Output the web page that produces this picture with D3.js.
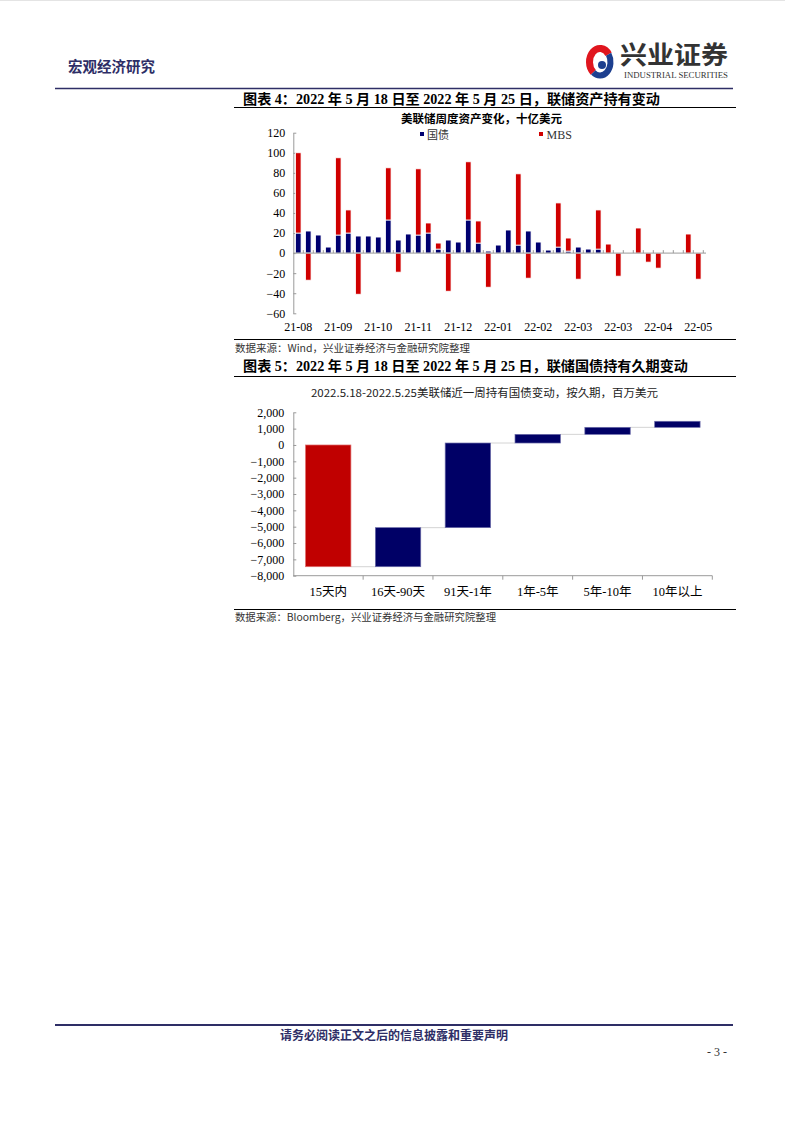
<!DOCTYPE html>
<html><head><meta charset="utf-8">
<script src="https://cdn.jsdelivr.net/npm/d3@7/dist/d3.min.js"></script>
<style>body{margin:0;background:#fff;} svg{display:block}</style>
</head><body>
<svg id="page" width="785" height="1124"></svg>
<script>
// ---------- DATA ----------
// Figure 4: weekly change of Fed assets, bn USD (41 weeks)
const weekIndex = d3.range(41);
const monthLabels = ["21-08","21-09","21-10","21-11","21-12","22-01","22-02","22-03","22-03","22-04","22-05"];
const treasury = [20,22,18,6,18,20,17,17,16,33,13,19,18,20,4,13,11,33,10,2,8,23,8,22,11,3,6,2,6,4,4,0,0,0,0,0,0,0,0,0,0];
const mbs      = [80,-27,0,0,77,23,-41,0,0,52,-19,0,66,10,6,-38,0,58,22,-34,0,0,71,-25,0,0,44,13,-26,0,39,9,-23,0,25,-9,-15,0,0,19,-26];
const yTicks4 = [120,100,80,60,40,20,0,-20,-40,-60];
const legend4 = ["国债","MBS"];

// Figure 5: change in Treasury holdings by maturity, mn USD (waterfall)
const maturities = ["15天内","16天-90天","91天-1年","1年-5年","5年-10年","10年以上"];
const changes = [-7450, 2390, 5180, 530, 430, 370];
const yTicks5 = [2000,1000,0,-1000,-2000,-3000,-4000,-5000,-6000,-7000,-8000];

// ---------- STYLE ----------
const NAVY = "#000070", RED = "#d00000", RED5 = "#c00000", NAVY5 = "#000066";
const HEAD = "#2e2e66";
const SERIF = "'Liberation Serif','Noto Sans CJK SC',serif";
const CJK = "'Noto Sans CJK SC','Liberation Serif',sans-serif";

const svg = d3.select("#page");

// page edges
svg.append("line").attr("x1",0).attr("x2",785).attr("y1",0.5).attr("y2",0.5).attr("stroke","#e4e4e4");

// ---------- HEADER ----------
svg.append("text").attr("x",68).attr("y",72).text("宏观经济研究")
  .attr("font-family",CJK).attr("font-weight","bold").attr("font-size",14.5).attr("fill",HEAD);
svg.append("line").attr("x1",55).attr("x2",733).attr("y1",88.5).attr("y2",88.5)
  .attr("stroke",HEAD).attr("stroke-width",1.5);

// logo
const lg = svg.append("g");
function arcPath(cx,cy,rx,ry,a0,a1,large,sweep){
  const r=Math.PI/180;
  return `M${cx+rx*Math.cos(a0*r)},${cy+ry*Math.sin(a0*r)} A${rx},${ry} 0 ${large} ${sweep} ${cx+rx*Math.cos(a1*r)},${cy+ry*Math.sin(a1*r)}`;
}
lg.append("path").attr("d",arcPath(600,62,10.5,13.5,-35,130,1,0)).attr("fill","none").attr("stroke","#e0161e").attr("stroke-width",7);
lg.append("path").attr("d",arcPath(600,62,10.5,13.5,130,-35,0,0)).attr("fill","none").attr("stroke","#1d3f8f").attr("stroke-width",6);
lg.append("circle").attr("cx",602).attr("cy",65).attr("r",4).attr("fill","#1d3f8f");
svg.append("text").attr("x",620).attr("y",64).text("兴业证券")
  .attr("font-family",CJK).attr("font-weight","bold").attr("font-size",25).attr("fill","#333")
  .attr("textLength",108).attr("lengthAdjust","spacingAndGlyphs");
svg.append("text").attr("x",624).attr("y",77.5).text("INDUSTRIAL SECURITIES")
  .attr("font-family",SERIF).attr("font-size",8).attr("fill","#333")
  .attr("textLength",104).attr("lengthAdjust","spacingAndGlyphs");

// ---------- FIGURE 4 ----------
svg.append("text").attr("x",243).attr("y",104)
  .text("图表 4：2022 年 5 月 18 日至 2022 年 5 月 25 日，联储资产持有变动")
  .attr("font-family",SERIF).attr("font-weight","bold").attr("font-size",14).attr("fill","#000")
  .attr("textLength",417).attr("lengthAdjust","spacingAndGlyphs");
svg.append("line").attr("x1",234).attr("x2",736).attr("y1",107.5).attr("y2",107.5).attr("stroke","#000").attr("stroke-width",1);

svg.append("text").attr("x",481.5).attr("y",123).attr("text-anchor","middle")
  .text("美联储周度资产变化，十亿美元")
  .attr("font-family",CJK).attr("font-weight","bold").attr("font-size",11.5).attr("fill","#000");

const x4 = d3.scaleBand().domain(weekIndex).range([293.3,703.3]).paddingInner(0.45).paddingOuter(0.225);
const y4 = d3.scaleLinear().domain([-60,120]).range([313.3,132.7]);
const g4 = svg.append("g");

// y axis
const ya4 = g4.append("g").attr("transform","translate(293.3,0)")
  .call(d3.axisLeft(y4).tickValues(yTicks4).tickSizeInner(-3).tickSizeOuter(0).tickPadding(8));
ya4.select(".domain").attr("stroke","#9a9a9a");
ya4.selectAll(".tick line").attr("stroke","#9a9a9a");
ya4.selectAll("text").attr("font-family",SERIF).attr("font-size",12).attr("fill","#000");

// bars: treasury
g4.selectAll("rect.t").data(weekIndex.filter(i=>treasury[i]>0)).join("rect").attr("class","t")
  .attr("x",i=>x4(i)).attr("width",x4.bandwidth())
  .attr("y",i=>y4(treasury[i])).attr("height",i=>y4(0)-y4(treasury[i]))
  .attr("fill",NAVY).attr("stroke","#fff").attr("stroke-width",0.8);
// bars: MBS
g4.selectAll("rect.m").data(weekIndex.filter(i=>mbs[i]!==0)).join("rect").attr("class","m")
  .attr("x",i=>x4(i)).attr("width",x4.bandwidth())
  .attr("y",i=> mbs[i]>0 ? y4(treasury[i]+mbs[i]) : y4(0))
  .attr("height",i=> mbs[i]>0 ? y4(treasury[i])-y4(treasury[i]+mbs[i]) : y4(mbs[i])-y4(0))
  .attr("fill",RED).attr("stroke","#fff").attr("stroke-width",0.8);

// x axis at zero
const step4 = x4.step();
g4.append("line").attr("x1",293.3).attr("x2",706).attr("y1",y4(0)).attr("y2",y4(0)).attr("stroke","#9a9a9a").attr("stroke-width",1);
g4.selectAll("line.xt").data(d3.range(1,42)).join("line").attr("class","xt")
  .attr("x1",k=>293.3+k*step4).attr("x2",k=>293.3+k*step4)
  .attr("y1",y4(0)-3).attr("y2",y4(0)).attr("stroke","#9a9a9a");
// month labels
g4.selectAll("text.xl").data(monthLabels).join("text").attr("class","xl")
  .attr("x",(d,j)=>x4(j*4)+x4.bandwidth()/2).attr("y",331).attr("text-anchor","middle")
  .text(d=>d).attr("font-family",SERIF).attr("font-size",12).attr("fill","#000");

// legend
const lgd = g4.append("g");
lgd.append("rect").attr("x",420).attr("y",132).attr("width",4).attr("height",4).attr("fill",NAVY);
lgd.append("text").attr("x",427).attr("y",139).text(legend4[0]).attr("font-family",CJK).attr("font-size",11).attr("fill","#333");
lgd.append("rect").attr("x",539).attr("y",132).attr("width",4).attr("height",4).attr("fill",RED);
lgd.append("text").attr("x",546.5).attr("y",139).text(legend4[1]).attr("font-family",SERIF).attr("font-size",12).attr("fill","#333");

svg.append("line").attr("x1",234).attr("x2",736).attr("y1",339.5).attr("y2",339.5).attr("stroke","#000");
svg.append("text").attr("x",235).attr("y",351.5).text("数据来源：Wind，兴业证券经济与金融研究院整理")
  .attr("font-family",CJK).attr("font-size",10).attr("fill","#333")
  .attr("textLength",235).attr("lengthAdjust","spacingAndGlyphs");

// ---------- FIGURE 5 ----------
svg.append("text").attr("x",243).attr("y",371)
  .text("图表 5：2022 年 5 月 18 日至 2022 年 5 月 25 日，联储国债持有久期变动")
  .attr("font-family",SERIF).attr("font-weight","bold").attr("font-size",14).attr("fill","#000")
  .attr("textLength",445).attr("lengthAdjust","spacingAndGlyphs");
svg.append("line").attr("x1",234).attr("x2",736).attr("y1",376.5).attr("y2",376.5).attr("stroke","#000");

svg.append("text").attr("x",311).attr("y",397)
  .text("2022.5.18-2022.5.25美联储近一周持有国债变动，按久期，百万美元")
  .attr("font-family",CJK).attr("font-size",11).attr("fill","#222")
  .attr("textLength",347).attr("lengthAdjust","spacingAndGlyphs");

const x5 = d3.scaleBand().domain(maturities).range([293.3,712.3]).paddingInner(0.35).paddingOuter(0.175);
const y5 = d3.scaleLinear().domain([-8000,2000]).range([575.7,412.3]);
const g5 = svg.append("g");

let acc = 0;
const wf = changes.map((c,i)=>{ const s=acc; acc+=c; return {name:maturities[i], start:s, end:acc, change:c}; });

const ya5 = g5.append("g").attr("transform","translate(293.3,0)")
  .call(d3.axisLeft(y5).tickValues(yTicks5).tickSizeInner(-3).tickSizeOuter(0).tickPadding(9).tickFormat(d3.format(",")));
ya5.select(".domain").attr("stroke","#9a9a9a");
ya5.selectAll(".tick line").attr("stroke","#9a9a9a");
ya5.selectAll("text").attr("font-family",SERIF).attr("font-size",12).attr("fill","#000");

// connectors
g5.selectAll("line.cn").data(wf.slice(0,-1)).join("line").attr("class","cn")
  .attr("x1",(d)=>x5(d.name)+x5.bandwidth()).attr("x2",(d,i)=>x5(wf[i+1].name))
  .attr("y1",d=>y5(d.end)).attr("y2",d=>y5(d.end)).attr("stroke","#d4d4d4").attr("stroke-width",1);

g5.selectAll("rect.wf").data(wf).join("rect").attr("class","wf")
  .attr("x",d=>x5(d.name)).attr("width",x5.bandwidth())
  .attr("y",d=>y5(Math.max(d.start,d.end))).attr("height",d=>Math.abs(y5(d.start)-y5(d.end)))
  .attr("fill",d=>d.change<0?RED5:NAVY5)
  .attr("stroke",d=>d.change<0?"#e07070":"#6a6aa8").attr("stroke-width",0.7);

// x axis at bottom
g5.append("line").attr("x1",293.3).attr("x2",712.3).attr("y1",y5(-8000)).attr("y2",y5(-8000)).attr("stroke","#9a9a9a");
g5.selectAll("line.bt").data(d3.range(1,7)).join("line").attr("class","bt")
  .attr("x1",k=>293.3+k*x5.step()).attr("x2",k=>293.3+k*x5.step())
  .attr("y1",y5(-8000)).attr("y2",y5(-8000)+4).attr("stroke","#9a9a9a");
g5.selectAll("text.xl5").data(maturities).join("text").attr("class","xl5")
  .attr("x",d=>x5(d)+x5.bandwidth()/2).attr("y",596).attr("text-anchor","middle")
  .text(d=>d).attr("font-family",SERIF).attr("font-size",12.5).attr("fill","#000");

svg.append("line").attr("x1",234).attr("x2",736).attr("y1",609.5).attr("y2",609.5).attr("stroke","#000");
svg.append("text").attr("x",235).attr("y",621).text("数据来源：Bloomberg，兴业证券经济与金融研究院整理")
  .attr("font-family",CJK).attr("font-size",10).attr("fill","#333")
  .attr("textLength",261).attr("lengthAdjust","spacingAndGlyphs");

// ---------- FOOTER ----------
svg.append("line").attr("x1",55).attr("x2",733).attr("y1",1025).attr("y2",1025).attr("stroke",HEAD).attr("stroke-width",2);
svg.append("text").attr("x",394).attr("y",1040).attr("text-anchor","middle").text("请务必阅读正文之后的信息披露和重要声明")
  .attr("font-family",CJK).attr("font-weight","bold").attr("font-size",12).attr("fill",HEAD);
svg.append("text").attr("x",717).attr("y",1056).attr("text-anchor","middle").text("- 3 -")
  .attr("font-family",SERIF).attr("font-size",12).attr("fill","#333");
</script>
</body></html>
